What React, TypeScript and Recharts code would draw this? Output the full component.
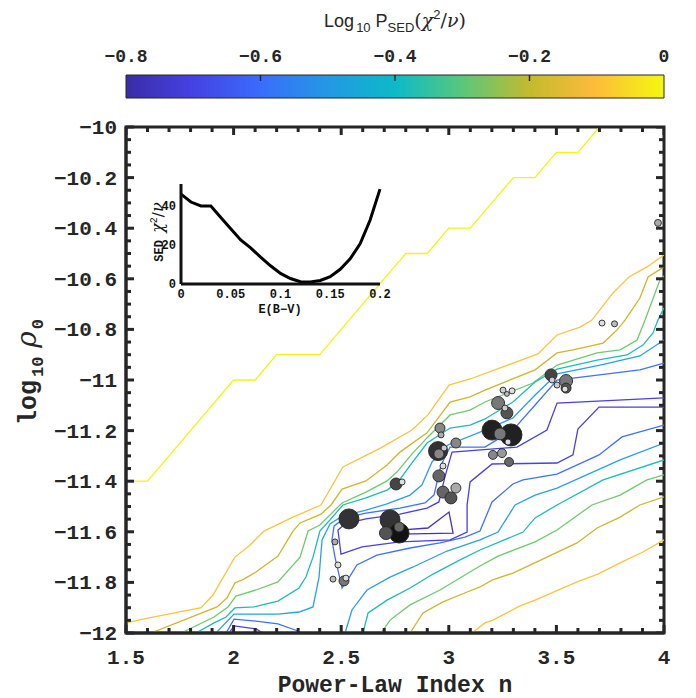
import React from "react";
import { ComposedChart, LineChart, Line, Scatter, XAxis, YAxis, ZAxis, ReferenceArea } from "recharts";

type P = [number, number];

// ---------- contour levels (log10 P_SED) ----------
const cYellow: P[] = [[1.5,-11.4],[1.6,-11.4],[2.0,-11.0],[2.1,-11.0],[2.2,-10.9],[2.4,-10.9],[2.8,-10.5],[2.9,-10.5],[3.0,-10.4],[3.1,-10.4],[3.3,-10.2],[3.4,-10.2],[3.5,-10.1],[3.6,-10.1],[3.7,-10.0]];
const cOrangeUp: P[] = [[1.5,-11.96],[1.607,-11.94],[1.849,-11.9],[1.904,-11.85],[2.006,-11.7],[2.072,-11.656],[2.141,-11.597],[2.211,-11.569],[2.276,-11.542],[2.406,-11.494],[2.508,-11.344],[2.68,-11.27],[2.829,-11.198],[2.903,-11.138],[3.001,-11.02],[3.099,-10.996],[3.414,-10.897],[3.503,-10.822],[3.61,-10.791],[3.665,-10.763],[3.763,-10.656],[3.837,-10.593],[3.921,-10.553],[4.0,-10.506]];
const cOliveUp: P[] = [[1.616,-12.0],[1.923,-11.897],[1.969,-11.862],[2.006,-11.802],[2.048,-11.787],[2.104,-11.759],[2.206,-11.696],[2.276,-11.597],[2.309,-11.565],[2.406,-11.53],[2.453,-11.494],[2.504,-11.431],[2.615,-11.399],[2.713,-11.336],[2.773,-11.285],[2.899,-11.209],[3.006,-11.087],[3.099,-11.067],[3.168,-11.04],[3.401,-10.96],[3.503,-10.893],[3.577,-10.881],[3.717,-10.854],[3.782,-10.802],[3.819,-10.763],[3.888,-10.676],[3.926,-10.593],[4.0,-10.553]];
const cGreenUp: P[] = [[1.756,-12.0],[1.909,-11.937],[1.974,-11.897],[2.011,-11.854],[2.104,-11.83],[2.206,-11.798],[2.309,-11.7],[2.346,-11.597],[2.401,-11.573],[2.504,-11.486],[2.615,-11.443],[2.713,-11.399],[2.759,-11.364],[2.829,-11.292],[2.903,-11.225],[3.006,-11.138],[3.099,-11.119],[3.168,-11.087],[3.391,-11.012],[3.503,-10.941],[3.689,-10.893],[3.796,-10.881],[3.875,-10.842],[3.912,-10.763],[3.981,-10.605],[4.0,-10.589]];
const cTealUp: P[] = [[1.825,-12.0],[1.909,-11.96],[1.965,-11.937],[2.006,-11.901],[2.095,-11.897],[2.206,-11.874],[2.304,-11.822],[2.336,-11.779],[2.369,-11.7],[2.401,-11.597],[2.448,-11.553],[2.508,-11.494],[2.615,-11.466],[2.713,-11.435],[2.764,-11.403],[2.829,-11.328],[2.899,-11.249],[3.006,-11.19],[3.099,-11.178],[3.168,-11.154],[3.298,-11.087],[3.401,-11.008],[3.503,-10.957],[3.689,-10.921],[3.828,-10.901],[3.902,-10.862],[3.949,-10.814],[3.972,-10.763],[4.0,-10.715]];
const cLightUp: P[] = [[1.918,-12.0],[2.002,-11.925],[2.206,-11.925],[2.304,-11.917],[2.369,-11.897],[2.397,-11.779],[2.411,-11.632],[2.448,-11.569],[2.504,-11.538],[2.615,-11.514],[2.713,-11.49],[2.82,-11.455],[2.875,-11.415],[2.922,-11.324],[2.996,-11.257],[3.168,-11.198],[3.298,-11.15],[3.401,-11.059],[3.503,-10.976],[3.703,-10.941],[3.888,-10.905],[4.0,-10.842]];
const cBlueBump: P[] = [[1.965,-12.0],[2.002,-11.945],[2.104,-11.953],[2.206,-11.964],[2.299,-11.992],[2.309,-12.0]];
const cIndigoBump: P[] = [[1.979,-12.0],[2.002,-11.972],[2.104,-11.984],[2.137,-12.0]];
const cBlueU: P[] = [[4.0,-10.933],[3.888,-10.96],[3.503,-11.0],[3.401,-11.099],[3.298,-11.198],[3.168,-11.265],[3.006,-11.265],[2.964,-11.336],[2.931,-11.455],[2.889,-11.486],[2.773,-11.506],[2.615,-11.526],[2.518,-11.545],[2.467,-11.577],[2.457,-11.632],[2.471,-11.7],[2.504,-11.822],[2.541,-11.775],[2.573,-11.731],[2.666,-11.692],[2.82,-11.664],[2.959,-11.644],[3.075,-11.621],[3.145,-11.597],[3.201,-11.482],[3.298,-11.411],[3.345,-11.395],[3.503,-11.372],[3.698,-11.296],[3.805,-11.225],[4.0,-11.178]];
const cIndigoU: P[] = [[4.0,-11.071],[3.503,-11.091],[3.456,-11.198],[3.317,-11.265],[3.015,-11.285],[2.982,-11.383],[2.954,-11.482],[2.899,-11.506],[2.773,-11.53],[2.615,-11.549],[2.518,-11.569],[2.485,-11.593],[2.499,-11.688],[2.597,-11.66],[2.773,-11.64],[3.006,-11.632],[3.085,-11.601],[3.085,-11.494],[3.099,-11.403],[3.201,-11.332],[3.503,-11.328],[3.577,-11.296],[3.6,-11.194],[3.698,-11.107],[4.0,-11.107]];
const cInner: P[] = [[2.773,-11.593],[2.903,-11.585],[3.001,-11.522],[3.02,-11.605],[2.773,-11.609],[2.773,-11.593]];
const cLightLow: P[] = [[2.518,-12.0],[2.55,-11.909],[2.62,-11.83],[2.727,-11.779],[2.834,-11.739],[2.992,-11.676],[3.145,-11.632],[3.229,-11.601],[3.308,-11.494],[3.401,-11.455],[3.503,-11.427],[3.796,-11.316],[4.0,-11.249]];
const cTealLow: P[] = [[2.601,-12.0],[2.625,-11.921],[2.713,-11.87],[2.82,-11.822],[2.927,-11.767],[3.052,-11.711],[3.145,-11.672],[3.345,-11.601],[3.401,-11.545],[3.503,-11.494],[3.717,-11.395],[4.0,-11.316]];
const cGreenLow: P[] = [[2.685,-12.0],[2.727,-11.949],[2.82,-11.889],[2.959,-11.83],[3.145,-11.735],[3.229,-11.696],[3.401,-11.64],[3.503,-11.593],[3.665,-11.494],[3.796,-11.455],[3.921,-11.395],[4.0,-11.375]];
const cOliveLow: P[] = [[2.82,-12.0],[2.88,-11.921],[2.973,-11.877],[3.085,-11.838],[3.145,-11.818],[3.201,-11.791],[3.298,-11.763],[3.456,-11.7],[3.596,-11.644],[3.689,-11.585],[3.796,-11.542],[3.888,-11.494],[4.0,-11.462]];
const cOrangeLow: P[] = [[3.108,-12.0],[3.168,-11.96],[3.205,-11.949],[3.331,-11.893],[3.401,-11.87],[3.596,-11.798],[3.693,-11.767],[3.796,-11.723],[3.902,-11.68],[4.0,-11.632]];

// ---------- sources: [n, log10 rho0, weight, shade] ----------
const sources: [number, number, number, number][] = [
  [3.289,-11.217,121,0.13],[3.201,-11.198,100,0.13],[2.536,-11.549,100,0.2],[2.727,-11.553,100,0.2],[2.769,-11.605,100,0.07],[2.950,-11.281,90,0.2],
  [2.708,-11.605,42,0.33],[3.229,-11.091,42,0.47],[3.545,-11.004,42,0.47],[2.755,-11.411,36,0.27],[2.954,-11.379,36,0.4],[2.973,-11.443,36,0.4],[3.010,-11.466,36,0.33],[3.238,-11.213,36,0.47],[3.270,-11.130,36,0.33],[3.475,-10.980,36,0.27],
  [2.769,-11.581,25,0.4],[2.513,-11.794,25,0.47],[2.959,-11.190,25,0.53],[2.954,-11.292,25,0.53],[3.033,-11.249,25,0.53],[3.033,-11.427,25,0.67],[3.545,-11.032,25,0.33],
  [3.205,-11.296,20,0.53],[3.247,-11.289,20,0.6],[3.280,-11.324,20,0.4],[3.972,-10.379,12,0.67],
  [2.783,-11.403,9,0.87],[2.471,-11.640,9,0.67],[2.485,-11.731,9,0.87],[2.462,-11.787,9,0.73],[2.522,-11.783,9,0.87],[2.964,-11.217,9,0.67],[2.978,-11.269,9,0.8],[2.973,-11.340,9,0.87],
  [3.275,-11.245,9,0.87],[3.261,-11.111,9,0.8],[3.252,-11.040,9,0.8],[3.294,-11.043,9,0.87],[3.270,-11.055,6,0.73],[3.480,-11.000,9,0.8],[3.503,-11.020,9,0.8],[3.540,-11.036,9,0.87],[3.712,-10.775,9,0.87],[3.770,-10.778,9,0.73],
];

// ---------- inset: SED chi2/nu vs E(B-V) ----------
const ebv = [0,0.01,0.02,0.03,0.04,0.05,0.06,0.07,0.08,0.09,0.1,0.11,0.12,0.13,0.14,0.15,0.16,0.17,0.18,0.19,0.2];
const chi2 = [45.8,41.8,39.8,39.8,33.9,28.2,22.5,18.4,13.7,9.3,5.4,2.8,1.2,1.0,1.8,3.7,7.5,12.8,20.5,32.5,48.4];

// ---------- ticks ----------
const xMajor = [1.5,2,2.5,3,3.5,4];
const yMajor = [-10,-10.2,-10.4,-10.6,-10.8,-11,-11.2,-11.4,-11.6,-11.8,-12];
const cbTicks = [-0.8,-0.6,-0.4,-0.2,0];
const insetXTicks = [0,0.05,0.1,0.15,0.2];
const insetYTicks = [0,20,40];

const xTicks: number[] = [];
for (let i = 0; i <= 25; i++) xTicks.push(Math.round((1.5 + i * 0.1) * 100) / 100);
const yTicks: number[] = [];
for (let i = 0; i <= 40; i++) yTicks.push(Math.round((-10 - i * 0.05) * 100) / 100);

const AX = "#262626";
const MONO = "'Liberation Mono', 'DejaVu Sans Mono', monospace";
const SERIF = "'DejaVu Serif', 'Liberation Serif', serif";
const TW = 3;
const C = {
  yellow: "#F4F414", orange: "#FCC43C", olive: "#CDB72C", green: "#6DCB6C", teal: "#1DBBB9",
  light: "#2AA0E6", blue: "#3F72F4", indigo: "#4A40DC", inner: "#4432B8",
};

const contours = [
  { id: "y", pts: cYellow, color: C.yellow },
  { id: "ou", pts: cOrangeUp, color: C.orange },
  { id: "olu", pts: cOliveUp, color: C.olive },
  { id: "gu", pts: cGreenUp, color: C.green },
  { id: "tu", pts: cTealUp, color: C.teal },
  { id: "lu", pts: cLightUp, color: C.light },
  { id: "bb", pts: cBlueBump, color: C.blue },
  { id: "ib", pts: cIndigoBump, color: C.indigo },
  { id: "bu", pts: cBlueU, color: C.blue },
  { id: "iu", pts: cIndigoU, color: C.indigo },
  { id: "in", pts: cInner, color: C.inner },
  { id: "ll", pts: cLightLow, color: C.light },
  { id: "tl", pts: cTealLow, color: C.teal },
  { id: "gl", pts: cGreenLow, color: C.green },
  { id: "oll", pts: cOliveLow, color: C.olive },
  { id: "ol", pts: cOrangeLow, color: C.orange },
].map((c) => ({ ...c, data: c.pts.map(([n, rho]) => ({ n, rho })) }));

const srcData = sources.map(([n, rho, s, g]) => ({ n, rho, s, g }));
const insetData = ebv.map((e, i) => ({ e, chi: chi2[i] }));
const cbData = [{ v: -0.8, y: 0 }, { v: 0, y: 1 }];
// mirror ticks on the top and right edges of the frame
const topTickData = xTicks.map((v) => ({ n: v, rho: -10 }));
const rightTickData = yTicks.map((v) => ({ n: 4, rho: v }));

const near = (a: number, list: number[]) => list.some((b) => Math.abs(a - b) < 1e-6);
const fmtX = (v: number) => (Number.isInteger(v) ? String(v) : v.toFixed(1));
const fmtY = (v: number) => "\u2212" + String(Number(Math.abs(v).toFixed(2)));

const BottomTick = (p: any) => {
  const v = p.payload.value;
  const major = near(v, xMajor);
  return (
    <g>
      <line x1={p.x} y1={p.y} x2={p.x} y2={p.y - (major ? 8 : 5)} stroke={AX} strokeWidth={TW} />
      {major && (
        <text x={p.x} y={p.y + 31} textAnchor="middle" fontFamily={MONO} fontWeight="bold" fontSize={21} fill={AX}>{fmtX(v)}</text>
      )}
    </g>
  );
};
const LeftTick = (p: any) => {
  const v = p.payload.value;
  const major = near(v, yMajor);
  return (
    <g>
      <line x1={p.x} y1={p.y} x2={p.x + (major ? 8 : 5)} y2={p.y} stroke={AX} strokeWidth={TW} />
      {major && (
        <text x={p.x - 9} y={p.y + 7} textAnchor="end" fontFamily={MONO} fontWeight="bold" fontSize={21} fill={AX}>{fmtY(v)}</text>
      )}
    </g>
  );
};
const TopTickShape = (p: any) => {
  const len = near(p.payload.n, xMajor) ? 8 : 5;
  return <line x1={p.cx} y1={p.cy} x2={p.cx} y2={p.cy + len} stroke={AX} strokeWidth={TW} />;
};
const RightTickShape = (p: any) => {
  const len = near(p.payload.rho, yMajor) ? 8 : 5;
  return <line x1={p.cx} y1={p.cy} x2={p.cx - len} y2={p.cy} stroke={AX} strokeWidth={TW} />;
};
const CbTick = (p: any) => {
  const v = p.payload.value;
  const inner = v > -0.79 && v < -0.01;
  return (
    <g>
      {inner && <line x1={p.x} y1={p.y} x2={p.x} y2={p.y + 6} stroke={AX} strokeWidth={1.5} />}
      <text x={p.x} y={p.y - 13} textAnchor="middle" fontFamily={MONO} fontWeight="bold" fontSize={18} fill={AX}>
        {v === 0 ? "0" : "\u2212" + Math.abs(v).toFixed(1)}
      </text>
    </g>
  );
};
const InsetXTick = (p: any) => (
  <text x={p.x} y={p.y + 14} textAnchor="middle" fontFamily={MONO} fontWeight="bold" fontSize={12} fill="#111">
    {String(p.payload.value)}
  </text>
);
const InsetYTick = (p: any) => (
  <text x={p.x - 5} y={p.y + 4} textAnchor="end" fontFamily={MONO} fontWeight="bold" fontSize={12} fill="#111">
    {String(p.payload.value)}
  </text>
);

const gray = (g: number) => {
  const c = Math.round(g * 255);
  return `rgb(${c},${c},${c})`;
};
const SourceDot = (p: any) => {
  const r = Math.sqrt((p.size || 9) / Math.PI);
  return <circle cx={p.cx} cy={p.cy} r={r} fill={gray(p.payload.g)} stroke="#262626" strokeWidth={0.9} />;
};

export default function App() {
  return (
    <div style={{ position: "absolute", left: 0, top: 0, width: 696, height: 698, background: "#fff" }}>
      <svg width={0} height={0} style={{ position: "absolute" }}>
        <defs>
          <linearGradient id="parula" x1="0" y1="0" x2="1" y2="0">
            <stop offset="0" stopColor="#3A2DA6" />
            <stop offset="0.12" stopColor="#4540E2" />
            <stop offset="0.25" stopColor="#3A6CFC" />
            <stop offset="0.37" stopColor="#2596E6" />
            <stop offset="0.5" stopColor="#0CBAC8" />
            <stop offset="0.62" stopColor="#55C87E" />
            <stop offset="0.75" stopColor="#C3BA2E" />
            <stop offset="0.87" stopColor="#FDBB3B" />
            <stop offset="1" stopColor="#F4F80F" />
          </linearGradient>
        </defs>
      </svg>

      {/* colorbar */}
      <div style={{ position: "absolute", left: 0, top: 0 }}>
        <ComposedChart width={696} height={110} data={cbData} margin={{ top: 35, right: 32, bottom: 12, left: 126 }}>
          <XAxis xAxisId="c" dataKey="v" type="number" orientation="top" domain={[-0.8, 0]} ticks={cbTicks}
            height={40} axisLine={false} tickLine={false} tickSize={0} tickMargin={0} tick={CbTick} interval={0} />
          <YAxis yAxisId="c" dataKey="y" type="number" domain={[0, 1]} hide />
          <Line xAxisId="c" yAxisId="c" dataKey="y" stroke="none" dot={false} isAnimationActive={false} />
          <ReferenceArea xAxisId="c" yAxisId="c" x1={-0.8} x2={0} y1={0} y2={1} fill="url(#parula)" fillOpacity={1} stroke={AX} strokeWidth={1} />
        </ComposedChart>
      </div>

      {/* main chart */}
      <div style={{ position: "absolute", left: 0, top: 0 }}>
        <ComposedChart width={696} height={698} margin={{ top: 127, right: 32, bottom: 0, left: 26 }}>
          <XAxis xAxisId="b" dataKey="n" type="number" domain={[1.5, 4]} ticks={xTicks} allowDataOverflow interval={0}
            height={65} axisLine={{ stroke: AX, strokeWidth: 3 }} tickLine={false} tickSize={0} tickMargin={0} tick={BottomTick} />
          <YAxis yAxisId="l" dataKey="rho" type="number" domain={[-12, -10]} ticks={yTicks} allowDataOverflow interval={0}
            width={100} axisLine={{ stroke: AX, strokeWidth: 3 }} tickLine={false} tickSize={0} tickMargin={0} tick={LeftTick} />
          <ZAxis zAxisId="z" dataKey="s" type="number" domain={[0, 121]} range={[0, Math.PI * 121]} />
          {contours.map((c) => (
            <Line key={c.id} data={c.data} xAxisId="b" yAxisId="l" dataKey="rho" type="linear" stroke={c.color}
              strokeWidth={1.3} dot={false} isAnimationActive={false} />
          ))}
          <Scatter data={srcData} xAxisId="b" yAxisId="l" zAxisId="z" dataKey="rho" shape={SourceDot} isAnimationActive={false} />
          <Scatter data={topTickData} xAxisId="b" yAxisId="l" zAxisId="z" dataKey="rho" shape={TopTickShape} isAnimationActive={false} />
          <Scatter data={rightTickData} xAxisId="b" yAxisId="l" zAxisId="z" dataKey="rho" shape={RightTickShape} isAnimationActive={false} />
          <ReferenceArea xAxisId="b" yAxisId="l" x1={1.5} x2={4} y1={-12} y2={-10} fill="none" stroke={AX} strokeWidth={3} ifOverflow="visible" />
        </ComposedChart>
      </div>

      {/* inset */}
      <div style={{ position: "absolute", left: 120, top: 170 }}>
        <LineChart width={290} height={150} data={insetData} margin={{ top: 14, right: 30, bottom: 0, left: 21 }}>
          <XAxis dataKey="e" type="number" domain={[0, 0.2]} ticks={insetXTicks} interval={0} height={36}
            axisLine={{ stroke: "#111", strokeWidth: 3 }} tickLine={false} tickSize={0} tickMargin={0} tick={InsetXTick} />
          <YAxis dataKey="chi" type="number" domain={[0, 51]} ticks={insetYTicks} interval={0} width={40}
            axisLine={{ stroke: "#111", strokeWidth: 3 }} tickLine={false} tickSize={0} tickMargin={0} tick={InsetYTick} />
          <Line dataKey="chi" type="linear" stroke="#000" strokeWidth={3} dot={false} isAnimationActive={false} />
        </LineChart>
      </div>

      {/* texts */}
      <svg width={696} height={698} style={{ position: "absolute", left: 0, top: 0, pointerEvents: "none" }}>
        <text x={395} y={27} textAnchor="middle" fontFamily="'Liberation Sans', Arial, sans-serif" fontSize={18} fill={AX}>
          Log<tspan fontSize={13} dy={5} dx={2}>10</tspan><tspan dy={-5}> P</tspan><tspan fontSize={13} dy={5}>SED</tspan>
          <tspan dy={-5} fontFamily={SERIF} fontSize={19}>(</tspan><tspan fontFamily={SERIF} fontStyle="italic" fontSize={19}>χ</tspan>
          <tspan fontSize={13} dy={-8}>2</tspan><tspan dy={8} fontFamily={SERIF} fontSize={19}>/</tspan>
          <tspan fontFamily={SERIF} fontStyle="italic" fontSize={19}>ν</tspan><tspan fontFamily={SERIF} fontSize={19}>)</tspan>
        </text>
        <text x={395} y={692} textAnchor="middle" fontFamily={MONO} fontWeight="bold" fontSize={23} fill={AX}>Power-Law Index n</text>
        <text transform="translate(36,372) rotate(-90)" textAnchor="middle" fontFamily={MONO} fontWeight="bold" fontSize={25} fill={AX}>
          log<tspan fontSize={17} dy={7} dx={3}>10</tspan><tspan dy={-7} dx={9} fontFamily={SERIF} fontStyle="italic" fontWeight="normal" fontSize={28}>ρ</tspan>
          <tspan fontSize={17} dy={7} dx={2}>0</tspan>
        </text>
        <text x={280} y={313} textAnchor="middle" fontFamily={MONO} fontWeight="bold" fontSize={12} fill="#111">E(B−V)</text>
        <text transform="translate(163,232) rotate(-90)" textAnchor="middle" fontFamily={MONO} fontWeight="bold" fontSize={12} fill="#111">
          SED <tspan fontFamily={SERIF} fontStyle="italic" fontWeight="normal" fontSize={16}>χ</tspan>
          <tspan fontSize={10} dy={-6} fontWeight="normal">2</tspan><tspan dy={6} fontWeight="normal" fontSize={15} fontFamily={SERIF}>/</tspan>
          <tspan fontFamily={SERIF} fontStyle="italic" fontWeight="normal" fontSize={16}>ν</tspan>
        </text>
      </svg>
    </div>
  );
}
